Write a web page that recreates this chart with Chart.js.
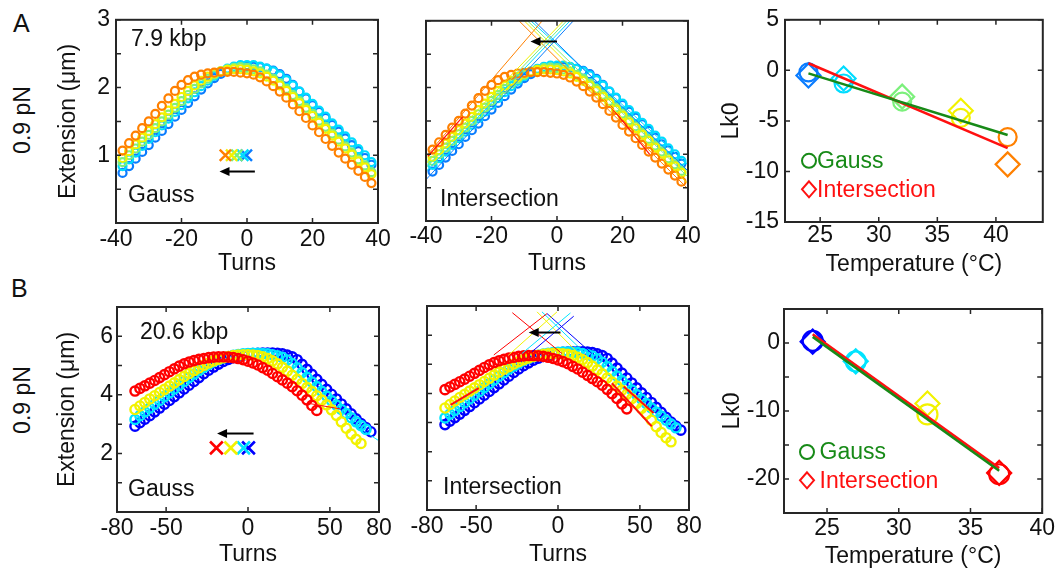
<!DOCTYPE html>
<html>
<head>
<meta charset="utf-8">
<script src="https://cdn.jsdelivr.net/npm/chart.js@4.4.1/dist/chart.umd.min.js"></script>
<style>
  html, body { margin: 0; padding: 0; background: #fff; }
  #fig { position: relative; width: 1057px; height: 574px; overflow: hidden;
         font-family: "Liberation Sans", Arial, sans-serif; color: #111; }
  #fig canvas { position: absolute; }
  .lbl { position: absolute; font-size: 23px; line-height: 1; white-space: nowrap; }
  .panel { font-size: 25px; }
  .rot { transform: translate(-50%, -50%) rotate(-90deg); }
</style>
</head>
<body>
<div id="fig">
  <canvas id="a1" width="360" height="280" style="left:40px; top:0px"></canvas>
  <canvas id="a2" width="315" height="280" style="left:395px; top:0px"></canvas>
  <canvas id="a3" width="357" height="280" style="left:700px; top:0px"></canvas>
  <canvas id="b1" width="360" height="294" style="left:40px; top:280px"></canvas>
  <canvas id="b2" width="315" height="294" style="left:395px; top:280px"></canvas>
  <canvas id="b3" width="357" height="294" style="left:700px; top:280px"></canvas>

  <div class="lbl panel" style="left:13px; top:11px">A</div>
  <div class="lbl panel" style="left:11px; top:276px">B</div>
  <div class="lbl rot" style="left:22px; top:120px">0.9 pN</div>
  <div class="lbl rot" style="left:22px; top:400px">0.9 pN</div>
  <div class="lbl" style="left:131px; top:27px">7.9 kbp</div>
  <div class="lbl" style="left:128px; top:183px">Gauss</div>
  <div class="lbl" style="left:440px; top:187px">Intersection</div>
  <div class="lbl" style="left:140px; top:320px">20.6 kbp</div>
  <div class="lbl" style="left:128px; top:477px">Gauss</div>
  <div class="lbl" style="left:443px; top:475px">Intersection</div>
</div>

<script>
// ---- 7.9 kbp, extension vs turns at 24/27/32/37/41 C ----
var turnsA = [-38, -36, -34, -32, -30, -28, -26, -24, -22, -20, -18, -16, -14, -12, -10, -8, -6, -4, -2,
              0, 2, 4, 6, 8, 10, 12, 14, 16, 18, 20, 22, 24, 26, 28, 30, 32, 34, 36, 38];
var extA24 = [0.74, 0.84, 0.95, 1.05, 1.15, 1.26, 1.36, 1.46, 1.57, 1.67, 1.77, 1.87, 1.97, 2.06, 2.14, 2.20, 2.25, 2.28, 2.30,
              2.31, 2.31, 2.30, 2.28, 2.25, 2.20, 2.13, 2.04, 1.94, 1.84, 1.74, 1.64, 1.55, 1.45, 1.35, 1.25, 1.15, 1.06, 0.96, 0.86];
var extA27 = [0.84, 0.94, 1.04, 1.14, 1.24, 1.34, 1.44, 1.54, 1.64, 1.74, 1.84, 1.93, 2.02, 2.10, 2.17, 2.23, 2.28, 2.31, 2.33,
              2.33, 2.33, 2.31, 2.28, 2.24, 2.18, 2.11, 2.03, 1.94, 1.85, 1.76, 1.66, 1.57, 1.47, 1.38, 1.28, 1.19, 1.09, 1.00, 0.90];
var extA32 = [0.90, 1.00, 1.10, 1.20, 1.30, 1.40, 1.50, 1.60, 1.70, 1.80, 1.89, 1.98, 2.06, 2.13, 2.19, 2.24, 2.27, 2.29, 2.30,
              2.29, 2.27, 2.24, 2.19, 2.13, 2.06, 1.98, 1.89, 1.80, 1.70, 1.61, 1.51, 1.42, 1.32, 1.23, 1.13, 1.04, 0.94, 0.85, 0.75];
var extA37 = [0.96, 1.06, 1.16, 1.26, 1.36, 1.46, 1.56, 1.66, 1.76, 1.86, 1.95, 2.03, 2.10, 2.16, 2.21, 2.24, 2.26, 2.27, 2.27,
              2.26, 2.24, 2.21, 2.16, 2.10, 2.03, 1.95, 1.86, 1.77, 1.67, 1.58, 1.48, 1.39, 1.29, 1.20, 1.10, 1.01, 0.91, 0.82, 0.72];
var extA41 = [1.07, 1.18, 1.29, 1.40, 1.50, 1.61, 1.73, 1.84, 1.95, 2.04, 2.11, 2.16, 2.19, 2.21, 2.22, 2.23, 2.23, 2.23, 2.22,
              2.21, 2.19, 2.15, 2.09, 2.02, 1.94, 1.85, 1.75, 1.65, 1.55, 1.44, 1.34, 1.24, 1.14, 1.04, 0.95, 0.86, 0.77, 0.68, 0.59];

var tempsA = [24, 27, 32, 37, 41];
var lkGaussA = [-0.2, -1.3, -3.1, -4.7, -6.6];
var lkInterA = [-0.5, -0.8, -2.6, -4.0, -9.3];
var fitGaussA = [[24, -0.3], [41, -6.4]];
var fitInterA = [[24, 0.7], [41, -7.7]];

// fitted slope lines per temperature: [x0, y0, x1, y1]
var riseA = [[-40, 0.62, 5, 3.0], [-40, 0.74, 4, 3.0], [-40, 0.80, 3, 3.0], [-40, 0.86, 2, 3.0], [-40, 0.97, -4.5, 3.0]];
var fallA = [[-7, 3.0, 40, 0.75], [-8, 3.0, 40, 0.84], [-9, 3.0, 40, 0.66], [-10, 3.0, 40, 0.56], [-11.6, 3.0, 40, 0.48]];
var fitRangeA = [[-39.4, 0.97, -28.8, 1.56], [16.2, 1.73, 28.3, 1.0]];

// ---- 20.6 kbp, extension vs turns at 24/27/32/37 C ----
var turnsB = [-69, -66, -63, -60, -57, -54, -51, -48, -45, -42, -39, -36, -33, -30, -27, -24, -21, -18, -15, -12, -9, -6, -3, 0,
              3, 6, 9, 12, 15, 18, 21, 24, 27, 30, 33, 36, 39, 42, 45, 48, 51, 54, 57, 60, 63, 66, 69, 72, 75];
var extB24 = [2.93, 3.05, 3.17, 3.29, 3.42, 3.55, 3.68, 3.81, 3.94, 4.07, 4.20, 4.33, 4.46, 4.59, 4.72, 4.84, 4.95, 5.05, 5.14, 5.21, 5.27, 5.32, 5.36, 5.39,
              5.41, 5.42, 5.43, 5.43, 5.43, 5.42, 5.40, 5.36, 5.30, 5.20, 5.04, 4.87, 4.70, 4.53, 4.36, 4.19, 4.02, 3.86, 3.69, 3.52, 3.35, 3.18, 3.02, 2.88, 2.74];
var extB27 = [3.16, 3.29, 3.42, 3.55, 3.68, 3.81, 3.94, 4.07, 4.20, 4.33, 4.46, 4.59, 4.71, 4.83, 4.94, 5.04, 5.13, 5.20, 5.26, 5.31, 5.35, 5.38, 5.40, 5.41,
              5.42, 5.42, 5.41, 5.40, 5.37, 5.33, 5.28, 5.19, 5.07, 4.92, 4.76, 4.60, 4.44, 4.28, 4.12, 3.96, 3.80, 3.65, 3.50, 3.36, 3.22, 3.08, 2.95, 2.82, null];
var extB32 = [3.50, 3.62, 3.74, 3.86, 3.97, 4.08, 4.19, 4.30, 4.41, 4.52, 4.63, 4.73, 4.83, 4.92, 5.01, 5.09, 5.16, 5.22, 5.27, 5.31, 5.34, 5.36, 5.37, 5.37,
              5.36, 5.34, 5.30, 5.24, 5.16, 5.06, 4.94, 4.81, 4.67, 4.53, 4.39, 4.25, 4.11, 3.97, 3.82, 3.66, 3.49, 3.30, 3.08, 2.86, 2.66, 2.48, 2.34, null, null];
var extB37 = [4.13, 4.22, 4.31, 4.40, 4.49, 4.59, 4.69, 4.79, 4.89, 4.98, 5.06, 5.12, 5.17, 5.21, 5.24, 5.27, 5.29, 5.30, 5.30, 5.29, 5.27, 5.24, 5.20, 5.15,
              5.09, 5.02, 4.93, 4.84, 4.73, 4.62, 4.51, 4.40, 4.28, 4.14, 3.99, 3.83, 3.64, 3.47, null, null, null, null, null, null, null, null, null, null, null];

var tempsB = [24, 27, 32, 37];
var lkGaussB = [0.3, -2.7, -10.5, -19.3];
var lkInterB = [0.2, -2.7, -8.9, -19.1];
var fitGaussB = [[24, 0.9], [37, -18.8]];
var fitInterB = [[24, 1.3], [37, -18.4]];

var riseB = [[-15.9, 5.43, 9.6, 6.65], [-22, 5.37, 7.6, 6.76], [-30.1, 5.32, -0.6, 6.8], [-39.2, 5.32, -6.7, 6.74]];
var fallB = [[-6.7, 6.74, 20.7, 5.37], [-9.8, 6.8, 16.7, 5.37], [-12.8, 6.8, 12.6, 5.37], [-27.9, 6.77, 2.4, 5.37]];
var fitRangeB2 = [[-65.6, 3.61, -48.4, 4.18], [40.1, 4.24, 58.4, 3.33], [32.9, 4.35, 57.3, 2.87]];
var fitRangeB1 = [[38, 3.70, 56.3, 3.52, 3], [60, 3.16, 80, 2.43, 1]];

var FONT = '"Liberation Sans", Arial, sans-serif';
var FONT_SIZE = 23;
var INK = '#111111';
var colorsA = ['#0a7cff', '#00dcff', '#7cf07c', '#f2f200', '#ff8000'];
var colorsB = ['#0000ff', '#00e4ff', '#f2f200', '#ff0000'];
var GREEN = '#178a17';
var RED = '#ff1010';

// MATLAB-style box with inward tick marks on all four sides
var framePlugin = {
  id: 'frame',
  afterDatasetsDraw: function (chart) {
    var a = chart.chartArea, ctx = chart.ctx, len = 5;
    var xs = chart.scales.x, ys = chart.scales.y;
    ctx.save();
    ctx.strokeStyle = '#262626';
    ctx.lineWidth = 1.5;
    ctx.beginPath();
    xs.ticks.forEach(function (t) {
      var p = xs.getPixelForValue(t.value);
      ctx.moveTo(p, a.bottom); ctx.lineTo(p, a.bottom - len);
      ctx.moveTo(p, a.top); ctx.lineTo(p, a.top + len);
    });
    ys.ticks.forEach(function (t) {
      var p = ys.getPixelForValue(t.value);
      ctx.moveTo(a.left, p); ctx.lineTo(a.left + len, p);
      ctx.moveTo(a.right, p); ctx.lineTo(a.right - len, p);
    });
    ctx.stroke();
    ctx.lineWidth = 2;
    ctx.strokeRect(a.left, a.top, a.right - a.left, a.bottom - a.top);
    ctx.restore();
  }
};

var arrowPlugin = {
  id: 'arrow',
  afterDatasetsDraw: function (chart, args, opts) {
    if (!opts || !opts.from) return;
    var xs = chart.scales.x, ys = chart.scales.y, ctx = chart.ctx;
    var x0 = xs.getPixelForValue(opts.from[0]), y0 = ys.getPixelForValue(opts.from[1]);
    var x1 = xs.getPixelForValue(opts.to[0]), y1 = ys.getPixelForValue(opts.to[1]);
    var ang = Math.atan2(y1 - y0, x1 - x0), head = 10, half = 4.5;
    var c = Math.cos(ang), s = Math.sin(ang);
    ctx.save();
    ctx.strokeStyle = '#000';
    ctx.fillStyle = '#000';
    ctx.lineWidth = 2;
    ctx.beginPath();
    ctx.moveTo(x0, y0);
    ctx.lineTo(x1 - c * head * 0.7, y1 - s * head * 0.7);
    ctx.stroke();
    ctx.beginPath();
    ctx.moveTo(x1, y1);
    ctx.lineTo(x1 - c * head - s * half, y1 - s * head + c * half);
    ctx.lineTo(x1 - c * head + s * half, y1 - s * head - c * half);
    ctx.closePath();
    ctx.fill();
    ctx.restore();
  }
};

// text legend with markers, placed inside the plot box
var legendPlugin = {
  id: 'noteLegend',
  afterDatasetsDraw: function (chart, args, opts) {
    if (!opts || !opts.items) return;
    var a = chart.chartArea, ctx = chart.ctx;
    ctx.save();
    ctx.font = FONT_SIZE + 'px ' + FONT;
    ctx.textBaseline = 'middle';
    ctx.lineWidth = 2;
    opts.items.forEach(function (it, i) {
      var x = a.left + opts.dx, y = a.top + opts.dy + i * opts.gap, r = opts.r;
      ctx.strokeStyle = it.color;
      ctx.fillStyle = it.color;
      ctx.beginPath();
      if (it.style === 'circle') {
        ctx.arc(x, y, r, 0, Math.PI * 2);
      } else {
        ctx.moveTo(x, y - r - 1); ctx.lineTo(x + r, y); ctx.lineTo(x, y + r + 1); ctx.lineTo(x - r, y); ctx.closePath();
      }
      ctx.stroke();
      ctx.fillText(it.label, x + opts.textDx, y + 1);
    });
    ctx.restore();
  }
};

function pts(xs, ys) {
  var out = [];
  for (var i = 0; i < xs.length; i++) {
    if (ys[i] !== null) out.push({ x: xs[i], y: ys[i] });
  }
  return out;
}

function circles(xs, ys, color, r, w, order) {
  return {
    data: pts(xs, ys), showLine: false, pointStyle: 'circle', pointRadius: r, pointBorderWidth: w,
    borderColor: color, pointBorderColor: color, pointBackgroundColor: 'rgba(0,0,0,0)', order: order
  };
}

function segment(s, color, w) {
  return {
    data: [{ x: s[0], y: s[1] }, { x: s[2], y: s[3] }], showLine: true, borderColor: color, borderWidth: w,
    pointRadius: 0, order: 1
  };
}

function markers(xs, ys, style, colors, r, w, order) {
  return {
    data: pts(xs, ys), showLine: false, pointStyle: style, pointRadius: r, pointBorderWidth: w,
    pointBorderColor: colors, pointBackgroundColor: 'rgba(0,0,0,0)', order: order
  };
}

function axis(s, horiz) {
  return {
    type: 'linear', min: s.min, max: s.max,
    afterBuildTicks: function (sc) { sc.ticks = s.ticks.map(function (v) { return { value: v }; }); },
    afterFit: function (sc) { if (horiz) sc.height = s.size; else sc.width = s.size; },
    grid: { display: false, drawTicks: false },
    border: { display: false },
    ticks: {
      autoSkip: false, maxRotation: 0, padding: s.pad, color: INK, font: { family: FONT, size: FONT_SIZE },
      callback: function (v) { return s.labels.indexOf(v) >= 0 ? String(v) : ''; }
    },
    title: { display: !!s.title, text: s.title || '', color: INK, font: { family: FONT, size: FONT_SIZE }, padding: s.titlePad || 0 }
  };
}

function panel(id, cfg) {
  return new Chart(document.getElementById(id), {
    type: 'scatter',
    data: { datasets: cfg.datasets },
    options: {
      responsive: false, animation: false, events: [],
      layout: { padding: cfg.pad },
      plugins: {
        legend: { display: false }, tooltip: { enabled: false },
        arrow: cfg.arrow || {}, noteLegend: cfg.legend || {}
      },
      scales: { x: axis(cfg.x, true), y: axis(cfg.y, false) }
    },
    plugins: [framePlugin, arrowPlugin, legendPlugin]
  });
}

function constant(list, v) { return list.map(function () { return v; }); }

var seriesA = [extA24, extA27, extA32, extA37, extA41];
var seriesB = [extB24, extB27, extB32, extB37];

function tracesA() {
  return seriesA.map(function (ys, i) { return circles(turnsA, ys, colorsA[i], 4, 2.2, 10 - i); });
}
function tracesB() {
  return seriesB.map(function (ys, i) { return circles(turnsB, ys, colorsB[i], 4.6, 2.4, 10 - i); });
}

var turnsAxisA = { min: -40, max: 40, ticks: [-40, -20, 0, 20, 40], labels: [-40, -20, 0, 20, 40], pad: 3, title: 'Turns', titlePad: 3 };
var turnsAxisB = { min: -80, max: 80, ticks: [-80, -50, 0, 50, 80], labels: [-80, -50, 0, 50, 80], pad: 3, title: 'Turns', titlePad: 6 };
var extTicksA = [0, 0.5, 1, 1.5, 2, 2.5, 3];
var extTicksB = [0, 1, 2, 3, 4, 5, 6, 7];

function withSize(base, extra) {
  var o = {};
  for (var k in base) o[k] = base[k];
  for (var j in extra) o[j] = extra[j];
  return o;
}

// A: Gauss fits
panel('a1', {
  pad: { left: 0, top: 16, right: 22, bottom: 0 },
  x: withSize(turnsAxisA, { size: 57 }),
  y: { min: 0, max: 3, ticks: extTicksA, labels: [1, 2, 3], size: 76, pad: 6, title: 'Extension (μm)', titlePad: 15 },
  datasets: tracesA().concat([markers(lkGaussA, constant(lkGaussA, 1.0), 'crossRot', colorsA, 8, 2.4, 1)]),
  arrow: { from: [2.4, 0.76], to: [-8.4, 0.76] }
});

// A: line intersections
panel('a2', {
  pad: { left: 0, top: 16, right: 22, bottom: 0 },
  x: withSize(turnsAxisA, { size: 59, pad: 2 }),
  y: { min: 0, max: 3, ticks: extTicksA, labels: [], size: 31, pad: 7 },
  datasets: tracesA()
    .concat(riseA.map(function (s, i) { return segment(s, colorsA[i], 1); }))
    .concat(fallA.map(function (s, i) { return segment(s, colorsA[i], 1); }))
    .concat(fitRangeA.map(function (s) { return segment(s, RED, 1.2); })),
  arrow: { from: [0, 2.69], to: [-8.1, 2.69] }
});

// A: Lk0 vs temperature
panel('a3', {
  pad: { left: 0, top: 17, right: 9, bottom: 0 },
  x: { min: 22, max: 44, ticks: [25, 30, 35, 40], labels: [25, 30, 35, 40], size: 58, pad: 0, title: 'Temperature (°C)', titlePad: 2 },
  y: { min: -15, max: 5, ticks: [-15, -10, -5, 0, 5], labels: [-15, -10, -5, 0, 5], size: 85, pad: 6, title: 'Lk0', titlePad: 18 },
  datasets: [
    segment([fitGaussA[0][0], fitGaussA[0][1], fitGaussA[1][0], fitGaussA[1][1]], GREEN, 2.5),
    segment([fitInterA[0][0], fitInterA[0][1], fitInterA[1][0], fitInterA[1][1]], RED, 2.5),
    markers(tempsA, lkGaussA, 'circle', colorsA, 9, 2.2, 3),
    markers(tempsA, lkInterA, 'rectRot', colorsA, 12, 2.2, 4)
  ],
  legend: {
    dx: 24, dy: 141, gap: 28.5, textDx: 8, r: 7,
    items: [{ label: 'Gauss', color: GREEN, style: 'circle' }, { label: 'Intersection', color: RED, style: 'diamond' }]
  }
});

// B: Gauss fits
panel('b1', {
  pad: { left: 0, top: 27, right: 21, bottom: 0 },
  x: withSize(turnsAxisB, { size: 62 }),
  y: { min: 0, max: 7, ticks: extTicksB, labels: [2, 4, 6], size: 77, pad: 4, title: 'Extension (μm)', titlePad: 14 },
  datasets: tracesB()
    .concat(fitRangeB1.map(function (s) { return segment(s, s[4] === 3 ? RED : colorsB[1], 1); }))
    .concat([markers(lkGaussB, constant(lkGaussB, 2.19), 'crossRot', colorsB, 9, 2.6, 1)]),
  arrow: { from: [3.4, 2.68], to: [-18.9, 2.68] }
});

// B: line intersections
panel('b2', {
  pad: { left: 0, top: 26, right: 21, bottom: 0 },
  x: withSize(turnsAxisB, { size: 64 }),
  y: { min: 0, max: 7, ticks: extTicksB, labels: [], size: 32, pad: 4 },
  datasets: tracesB()
    .concat(riseB.map(function (s, i) { return segment(s, colorsB[i], 1); }))
    .concat(fallB.map(function (s, i) { return segment(s, colorsB[i], 1); }))
    .concat(fitRangeB2.map(function (s) { return segment(s, RED, 2); })),
  arrow: { from: [1.5, 6.09], to: [-17.9, 6.09] }
});

// B: Lk0 vs temperature
panel('b3', {
  pad: { left: 0, top: 29, right: 9, bottom: 0 },
  x: { min: 22, max: 40, ticks: [25, 30, 35, 40], labels: [25, 30, 35, 40], size: 61, pad: 2, title: 'Temperature (°C)', titlePad: 4 },
  y: { min: -25, max: 5, ticks: [-25, -20, -15, -10, -5, 0, 5], labels: [-20, -10, 0], size: 84, pad: 4, title: 'Lk0', titlePad: 19 },
  datasets: [
    segment([fitGaussB[0][0], fitGaussB[0][1], fitGaussB[1][0], fitGaussB[1][1]], GREEN, 2.5),
    segment([fitInterB[0][0], fitInterB[0][1], fitInterB[1][0], fitInterB[1][1]], RED, 2.5),
    markers(tempsB, lkGaussB, 'circle', colorsB, 10, 2.2, 3),
    markers(tempsB, lkInterB, 'rectRot', colorsB, 12, 2.2, 4)
  ],
  legend: {
    dx: 23, dy: 143, gap: 28.3, textDx: 12.5, r: 7,
    items: [{ label: 'Gauss', color: GREEN, style: 'circle' }, { label: 'Intersection', color: RED, style: 'diamond' }]
  }
});
</script>
</body>
</html>
